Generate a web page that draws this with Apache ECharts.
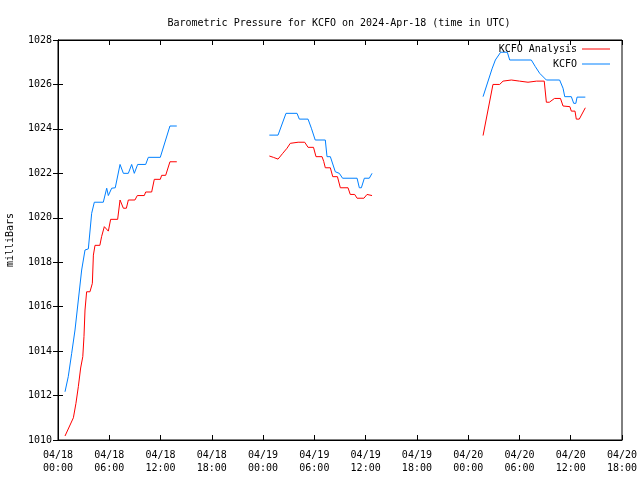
<!DOCTYPE html>
<html><head><meta charset="utf-8">
<script src="https://cdn.jsdelivr.net/npm/echarts@6/dist/echarts.min.js"></script>
<style>html,body{margin:0;padding:0;background:#fff}#c{width:640px;height:480px}</style>
</head><body><div id="c"></div>
<script>
// hours since 2024-04-18 00:00 UTC; null = gap
const xTickLabels = ['04/18\n00:00','04/18\n06:00','04/18\n12:00','04/18\n18:00','04/19\n00:00','04/19\n06:00','04/19\n12:00','04/19\n18:00','04/20\n00:00','04/20\n06:00','04/20\n12:00','04/20\n18:00'];
const analysisHours = [0.82,1.8,2.1,2.38,2.65,2.9,3.04,3.16,3.35,3.74,3.85,4.02,4.14,4.33,4.9,5.1,5.42,5.6,5.89,6.16,6.98,7.26,7.65,8.0,8.23,9.0,9.28,10.1,10.26,10.96,11.27,11.97,12.13,12.6,13.1,13.9,null,
 24.73,25.2,25.75,26.3,26.8,27.18,28.1,28.87,29.26,29.9,30.19,30.9,31.1,31.28,31.87,32.15,32.7,33.04,33.94,34.2,34.72,35.0,35.8,36.16,36.75,null,
 49.74,50.9,51.68,52.08,53.05,54.0,55.0,56.0,56.9,57.15,57.5,58.1,58.8,59.1,59.9,60.07,60.5,60.65,61.0,61.71];
const analysisValues = [1010.18,1011.0,1011.65,1012.4,1013.24,1013.75,1014.65,1015.85,1016.67,1016.67,1016.6,1017.05,1018.32,1018.76,1018.76,1019.15,1019.6,1019.65,1019.4,1019.93,1019.93,1020.8,1020.43,1020.43,1020.8,1020.8,1021.0,1021.0,1021.16,1021.16,1021.73,1021.73,1021.91,1021.91,1022.52,1022.52,null,
 1022.78,1022.72,1022.64,1022.9,1023.13,1023.35,1023.4,1023.4,1023.17,1023.17,1022.75,1022.75,1022.53,1022.25,1022.25,1021.85,1021.85,1021.35,1021.35,1021.05,1021.05,1020.88,1020.88,1021.05,1021.0,null,
 1023.7,1026.0,1026.0,1026.15,1026.2,1026.15,1026.1,1026.15,1026.15,1025.2,1025.2,1025.37,1025.37,1025.03,1025.0,1024.8,1024.8,1024.44,1024.44,1024.95];
const kcfoHours = [0.82,1.2,1.6,1.99,2.38,2.77,3.16,3.55,3.94,4.25,5.3,5.7,5.89,6.28,6.7,7.26,7.65,8.23,8.62,8.93,9.32,10.26,10.57,11.97,13.1,13.9,null,
 24.73,25.75,26.68,27.97,28.24,29.26,29.65,30.1,31.28,31.48,31.87,32.45,32.92,33.3,35.0,35.26,35.5,35.85,36.43,36.75,null,
 49.74,50.79,51.18,51.8,52.58,52.86,55.39,55.86,56.37,57.15,58.7,59.1,59.3,60.07,60.35,60.6,60.74,61.71];
const kcfoValues = [1012.17,1012.85,1013.9,1014.95,1016.3,1017.65,1018.55,1018.6,1020.2,1020.7,1020.7,1021.33,1021.0,1021.33,1021.35,1022.4,1022.0,1022.0,1022.4,1022.0,1022.4,1022.4,1022.72,1022.72,1024.13,1024.13,null,
 1023.72,1023.72,1024.7,1024.7,1024.44,1024.44,1024.03,1023.5,1023.5,1022.75,1022.75,1022.07,1022.0,1021.78,1021.78,1021.35,1021.35,1021.78,1021.78,1022.0,null,
 1025.45,1026.7,1027.1,1027.45,1027.45,1027.1,1027.1,1026.8,1026.5,1026.2,1026.2,1025.83,1025.45,1025.45,1025.15,1025.15,1025.43,1025.43];

function zip(h, v){ return h.map((x,i)=> x===null ? ['-','-'] : [x, v[i]]); }
const FONT = 'DejaVu Sans Mono';
const txt = {fontFamily: FONT, fontSize: 10, color: '#000'};
const chart = echarts.init(document.getElementById('c'), null, {renderer:'canvas'});
chart.setOption({
  animation: false,
  backgroundColor: '#fff',
  title: {text: 'Barometric Pressure for KCFO on 2024-Apr-18 (time in UTC)', left: 334, top: 13, textAlign: 'center',
    textStyle: {fontFamily: FONT, fontSize: 10, fontWeight: 'normal', color: '#000'}},
  grid: {left: 58, right: 18, top: 40, bottom: 40, show: true, borderColor: '#000', borderWidth: 1, containLabel: false, outerBoundsMode: 'none'},
  legend: [
    {data: ['KCFO Analysis'], right: 30, top: 44, align: 'right', icon: 'rect', itemWidth: 28, itemHeight: 1, itemGap: 0, padding: 0, textStyle: txt},
    {data: ['KCFO'], right: 30, top: 59, align: 'right', icon: 'rect', itemWidth: 28, itemHeight: 1, itemGap: 0, padding: 0, textStyle: txt}
  ],
  xAxis: [
    {type: 'value', min: 0, max: 66, interval: 6,
     axisLine: {show: true, lineStyle: {color: '#000'}},
     axisTick: {inside: true, length: 5, lineStyle: {color: '#000'}},
     splitLine: {show: false},
     axisLabel: Object.assign({margin: 9, lineHeight: 13, formatter: v => xTickLabels[Math.round(v/6)]}, txt)},
    {type: 'value', position: 'top', min: 0, max: 66, interval: 6,
     axisLine: {show: true, lineStyle: {color: '#000'}},
     axisTick: {inside: true, length: 5, lineStyle: {color: '#000'}},
     splitLine: {show: false}, axisLabel: {show: false}}
  ],
  yAxis: [
    {type: 'value', min: 1010, max: 1028, interval: 2, name: 'milliBars', nameLocation: 'middle', nameGap: 43, nameRotate: 90,
     nameTextStyle: txt,
     axisLine: {show: true, lineStyle: {color: '#000'}},
     axisTick: {inside: true, length: 5, lineStyle: {color: '#000'}},
     splitLine: {show: false},
     axisLabel: Object.assign({margin: 6, formatter: v => String(v)}, txt)},
    {type: 'value', position: 'right', min: 1010, max: 1028, interval: 2,
     axisLine: {show: true, lineStyle: {color: '#000'}},
     axisTick: {inside: true, length: 5, lineStyle: {color: '#000'}},
     splitLine: {show: false}, axisLabel: {show: false}}
  ],
  series: [
    {name: 'KCFO Analysis', type: 'line', data: zip(analysisHours, analysisValues), symbol: 'none', showSymbol: false,
     connectNulls: false, lineStyle: {color: '#ff0000', width: 1}, itemStyle: {color: '#ff0000'}},
    {name: 'KCFO', type: 'line', data: zip(kcfoHours, kcfoValues), symbol: 'none', showSymbol: false,
     connectNulls: false, lineStyle: {color: '#0080ff', width: 1}, itemStyle: {color: '#0080ff'}}
  ]
});
</script></body></html>
